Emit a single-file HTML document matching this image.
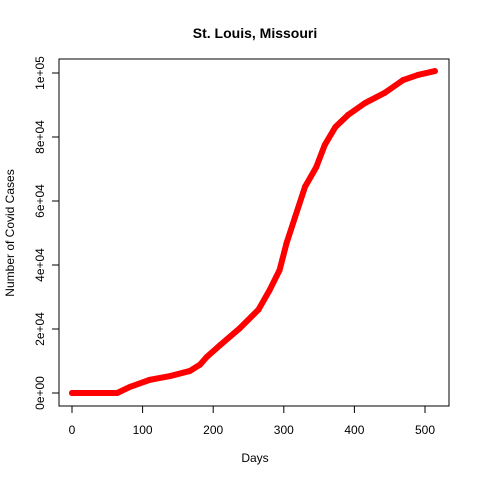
<!DOCTYPE html>
<html><head><meta charset="utf-8"><style>
body{margin:0;background:#fff}
svg{display:block;font-family:"Liberation Sans",Arial,sans-serif}
</style></head><body>
<svg width="480" height="480" viewBox="0 0 480 480">
<rect width="480" height="480" fill="#fff"/>
<text x="255" y="38" text-anchor="middle" font-size="14" font-weight="bold">St. Louis, Missouri</text>
<rect x="59" y="59" width="390" height="347" fill="none" stroke="#000" stroke-width="1"/>
<g id="xaxis"></g>
<g id="yaxis"></g>
<text x="255" y="462" text-anchor="middle" font-size="12">Days</text>
<text transform="translate(14,233) rotate(-90)" text-anchor="middle" font-size="12">Number of Covid Cases</text>
<g id="series"></g>
</svg>
<script>
const days=[0,20,40,64,82,110,139,167,181,191,210,238,264,280,294,304,316,330,346,358,373,391,415,443,469,490,514];
const cases=[0,0,0,0,1900,4100,5300,6900,8800,11300,15000,20300,26000,32200,38400,46900,55000,64400,70600,77500,83100,86900,90600,93800,97800,99400,100600];
const xTicks=[0,100,200,300,400,500];
const yTicks=[0,20000,40000,60000,80000,100000];
const yTickLabels=["0e+00","2e+04","4e+04","6e+04","8e+04","1e+05"];
const NS="http://www.w3.org/2000/svg";
function xs(v){return 72+v*(425-72)/500;}
function ys(v){return 393-v*(393-73)/100000;}
function mk(t,a,p){const e=document.createElementNS(NS,t);for(const k in a)e.setAttribute(k,a[k]);p.appendChild(e);return e;}
const xa=document.getElementById('xaxis');
mk('line',{x1:xs(0),x2:xs(500),y1:406,y2:406,stroke:'#000'},xa);
xTicks.forEach(t=>{
 const l=mk('line',{x1:xs(t),x2:xs(t),y1:406,y2:413,stroke:'#000'},xa);
 
 
 const tx=mk('text',{x:xs(t),y:434,'text-anchor':'middle','font-size':12},xa);
 tx.textContent=t;
 
 
});
const ya=document.getElementById('yaxis');
mk('line',{x1:59,x2:59,y1:ys(0),y2:ys(100000),stroke:'#000'},ya);
yTicks.forEach((t,i)=>{
 const l=mk('line',{x1:52,x2:59,y1:ys(t),y2:ys(t),stroke:'#000'},ya);
 
 
 const tx=mk('text',{transform:`translate(44,${ys(t)}) rotate(-90)`,'text-anchor':'middle','font-size':12},ya);
 tx.textContent=yTickLabels[i];
 
 
});
const s=document.getElementById('series');
const pl=mk('polyline',{points:days.map((d,i)=>xs(d)+','+ys(cases[i])).join(' '),fill:'none',stroke:'#ff0000','stroke-width':6,'stroke-linejoin':'round','stroke-linecap':'round'},s);


days.forEach((d,i)=>{
 const c=mk('circle',{cx:xs(d),cy:ys(cases[i]),r:3,fill:'#ff0000'},s);
 
 
});
</script>
</body></html>
